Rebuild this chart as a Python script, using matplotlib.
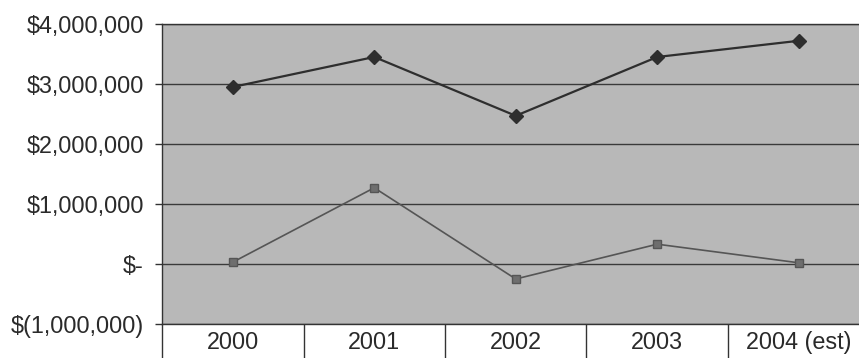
import matplotlib.pyplot as plt
from matplotlib.ticker import FuncFormatter
import numpy as np

plt.rcParams['font.family'] = ['Liberation Sans', 'DejaVu Sans']

years = ['2000', '2001', '2002', '2003', '2004 (est)']
upper = [2950000, 3450000, 2470000, 3450000, 3720000]
lower = [30000, 1270000, -250000, 330000, 20000]


def money(v, pos):
    if v == 0:
        return '$-'
    if v < 0:
        return '$(%s)' % format(int(-v), ',')
    return '$' + format(int(v), ',')


fig = plt.figure(figsize=(8.59, 3.58), dpi=100)
ax = fig.add_axes([0.1886, 0.095, 0.8236, 0.838])
ax.set_facecolor('#b8b8b8')

x = np.arange(len(years))
ax.plot(x, upper, color='#2e2e2e', linewidth=1.6, marker='D', markersize=7,
        markerfacecolor='#2e2e2e', markeredgecolor='#2e2e2e', zorder=3)
ax.plot(x, lower, color='#555555', linewidth=1.2, marker='s', markersize=6,
        markerfacecolor='#6e6e6e', markeredgecolor='#555555', zorder=3)

ax.set_ylim(-1000000, 4000000)
ax.set_yticks(np.arange(-1000000, 4000001, 1000000))
ax.yaxis.set_major_formatter(FuncFormatter(money))
ax.grid(axis='y', color='#3a3a3a', linewidth=1.0)
ax.set_axisbelow(True)

ax.set_xlim(-0.5, len(years) - 0.5)
ax.set_xticks(x)
ax.set_xticklabels(years)
ax.set_xticks(np.arange(-0.5, len(years)), minor=True)
ax.tick_params(axis='x', which='major', length=0, pad=5, labelsize=16.8, colors='#2a2a2a')
ax.tick_params(axis='x', which='minor', length=26, width=1.0, color='#333333')
ax.tick_params(axis='y', length=5, width=1.0, pad=8, labelsize=16.8, colors='#2a2a2a')
ax.tick_params(axis='y', color='#333333')

for s in ['top', 'left', 'bottom']:
    ax.spines[s].set_color('#333333')
    ax.spines[s].set_linewidth(1.0)
ax.spines['right'].set_visible(False)

fig.savefig('out.png', dpi=100)
